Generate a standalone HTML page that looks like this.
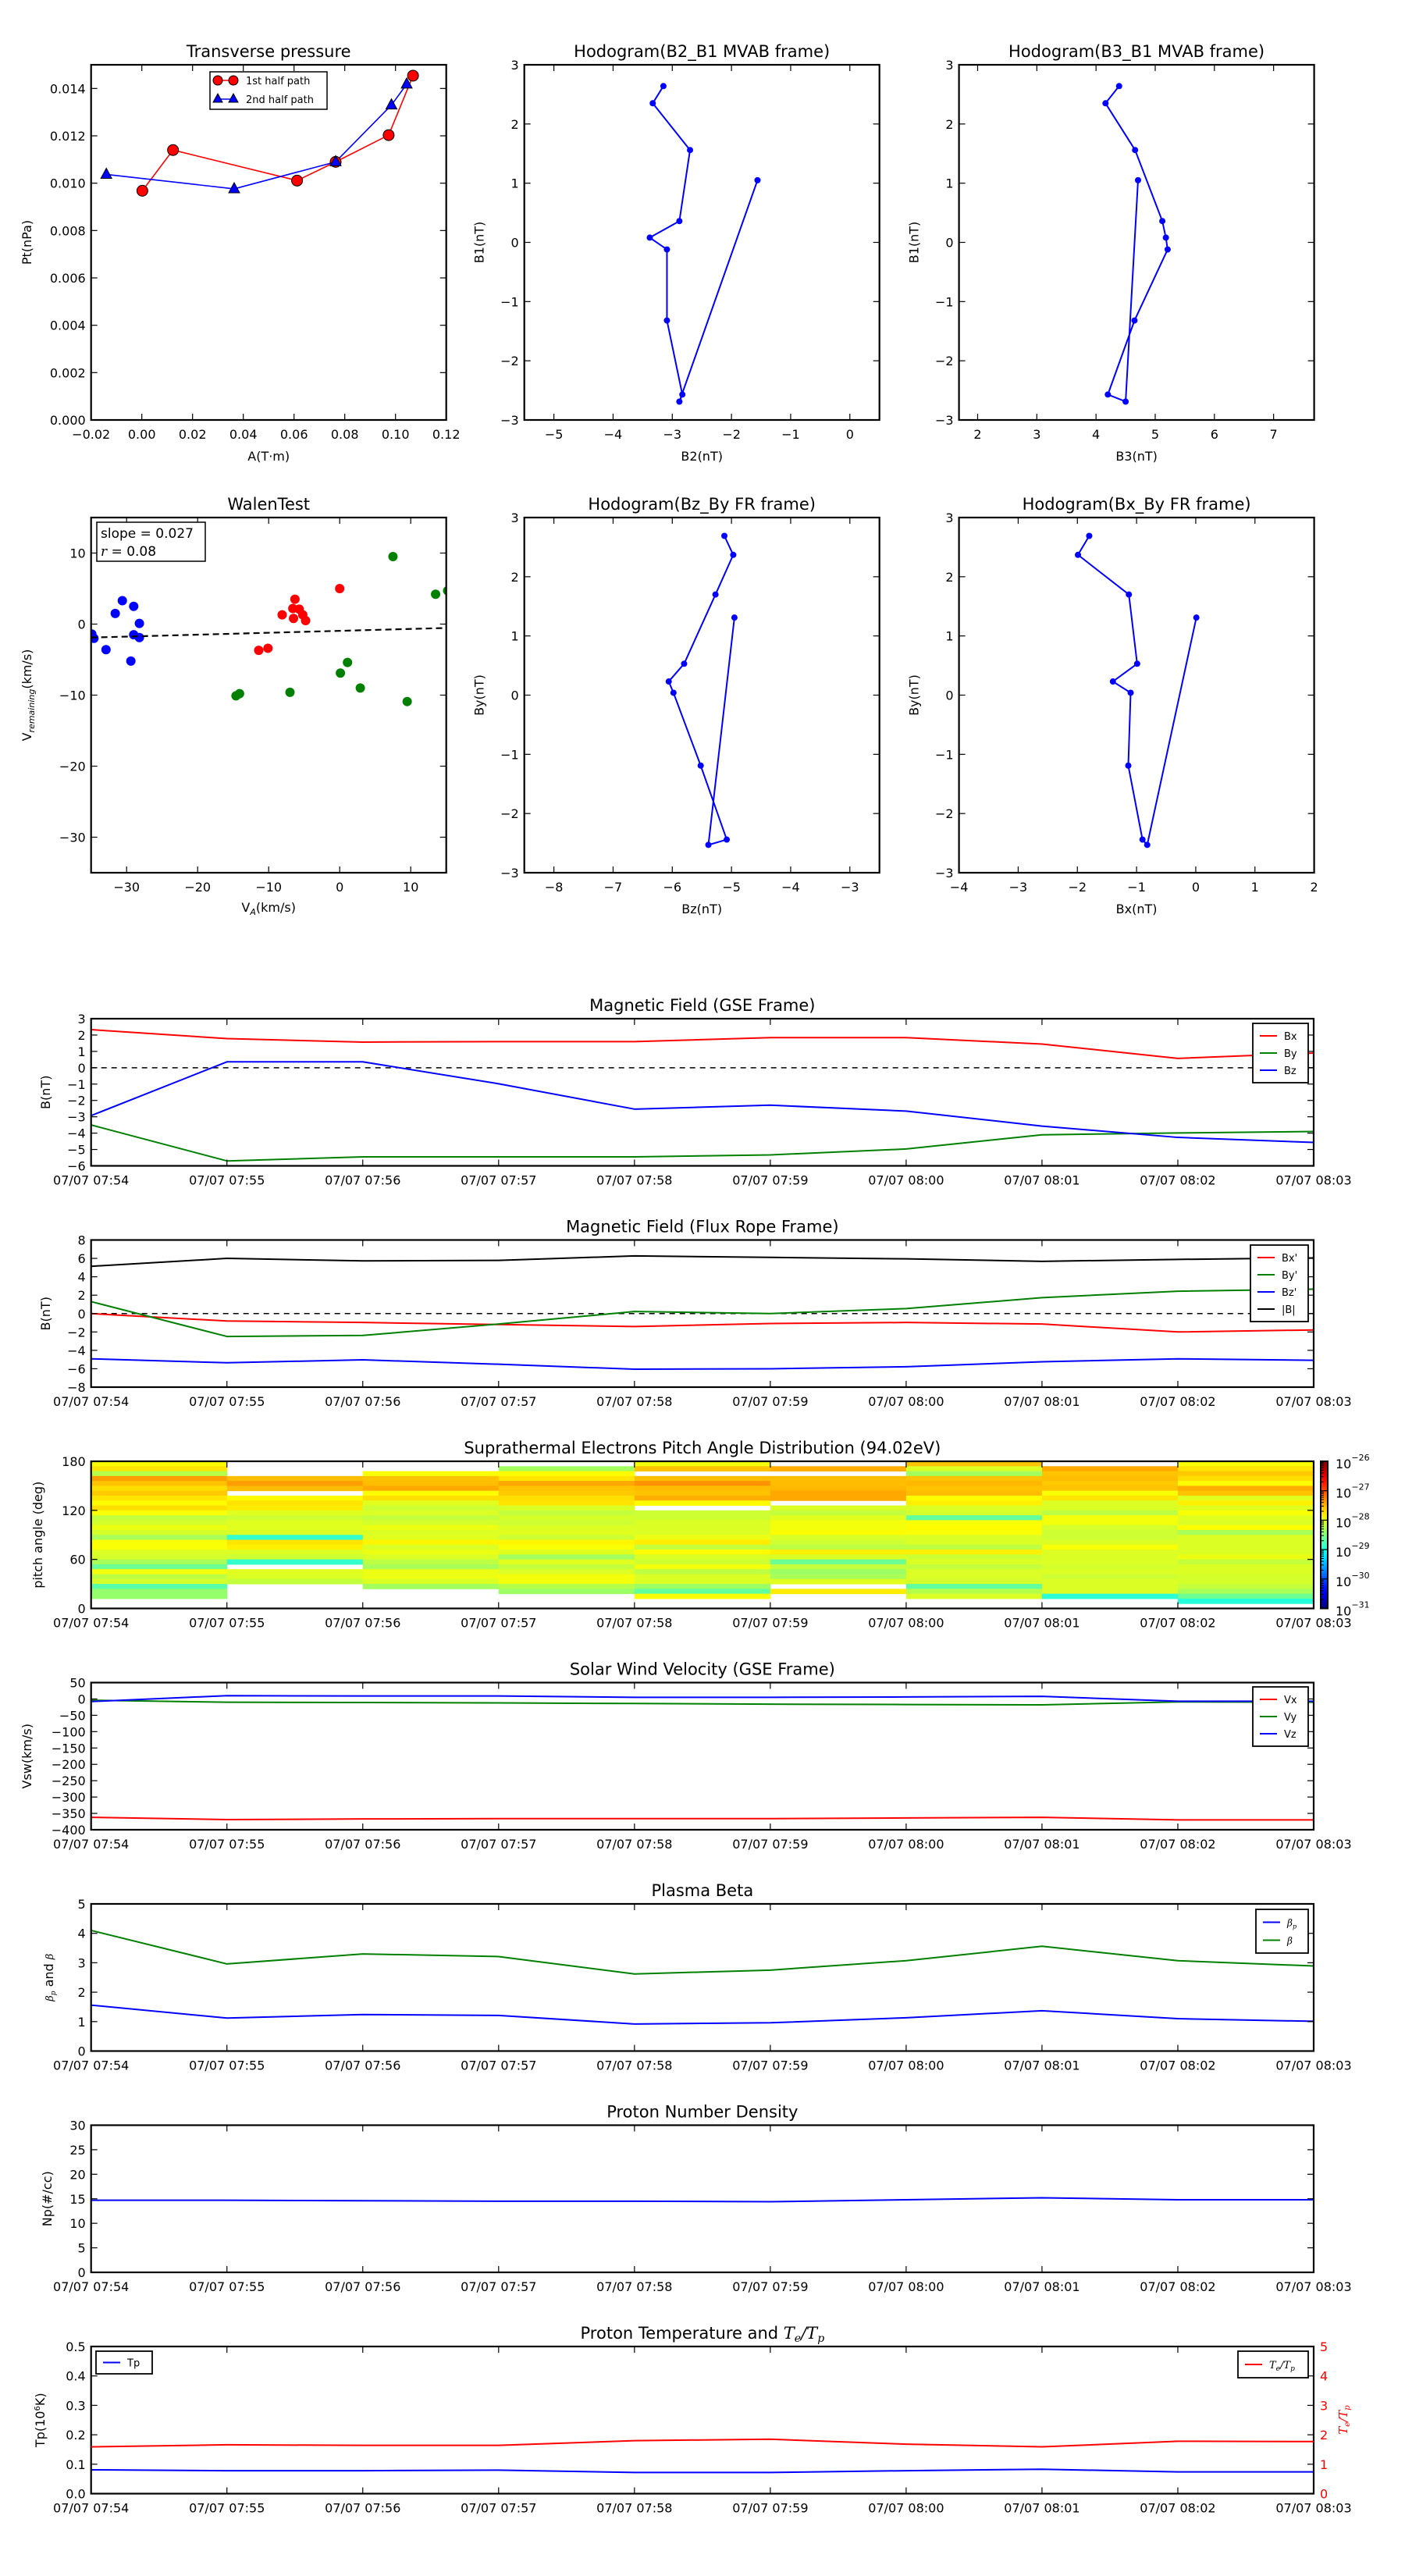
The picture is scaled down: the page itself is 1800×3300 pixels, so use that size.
<!DOCTYPE html>
<html><head><meta charset="utf-8"><style>
body{margin:0;background:#fff}
svg{display:block;font-family:"DejaVu Sans","Liberation Sans",sans-serif}
</style></head><body>
<svg id="fig" width="1800" height="3300" xmlns="http://www.w3.org/2000/svg"></svg>
<script>
// ---------- data ----------
const tpHalf1A=[0.0002,0.0123,0.0612,0.0764,0.0973,0.1069];
const tpHalf1P=[0.00968,0.0114,0.01011,0.0109,0.01203,0.01454];
const tpHalf2A=[-0.014,0.0364,0.0764,0.0984,0.1044];
const tpHalf2P=[0.01037,0.00976,0.0109,0.0133,0.01418];
const mvB1=[2.64,2.35,1.56,0.36,0.08,-0.12,-1.32,-2.57,-2.69,1.05];
const mvB2=[-3.15,-3.33,-2.70,-2.88,-3.38,-3.09,-3.09,-2.83,-2.88,-1.56];
const mvB3=[4.39,4.16,4.66,5.12,5.18,5.21,4.65,4.20,4.50,4.71];
const frBy=[2.69,2.37,1.70,0.53,0.23,0.04,-1.19,-2.44,-2.53,1.31];
const frBz=[-5.12,-4.97,-5.27,-5.80,-6.06,-5.98,-5.52,-5.08,-5.39,-4.95];
const frBx=[-1.80,-1.99,-1.13,-0.99,-1.40,-1.10,-1.14,-0.90,-0.82,0.01];
const walenBlueX=[-34.9,-34.6,-32.9,-30.6,-31.6,-29.0,-28.2,-29.0,-28.2,-29.4];
const walenBlueY=[-1.4,-2.0,-3.6,3.3,1.5,2.5,0.1,-1.5,-1.9,-5.2];
const walenRedX=[0,-6.3,-8.1,-6.6,-5.7,-5.2,-4.8,-6.5,-10.1,-11.4];
const walenRedY=[5.0,3.5,1.3,2.2,2.1,1.3,0.5,0.8,-3.4,-3.7];
const walenGreenX=[7.5,13.5,15.2,1.1,0.1,2.9,9.5,-7.0,-14.1,-14.6];
const walenGreenY=[9.5,4.2,4.7,-5.4,-6.9,-9.0,-10.9,-9.6,-9.8,-10.1];
const walenSlope=0.027;
const walenIntercept=-0.95;
const timeLabels=["07/07 07:54","07/07 07:55","07/07 07:56","07/07 07:57","07/07 07:58","07/07 07:59","07/07 08:00","07/07 08:01","07/07 08:02","07/07 08:03"];
const gseBx=[2.33,1.78,1.57,1.6,1.6,1.84,1.84,1.45,0.57,0.9];
const gseBy=[-3.5,-5.7,-5.45,-5.45,-5.45,-5.33,-4.97,-4.1,-3.99,-3.9];
const gseBz=[-2.93,0.36,0.36,-0.98,-2.53,-2.29,-2.65,-3.57,-4.26,-4.57];
const frpBx=[0.0,-0.81,-0.97,-1.19,-1.41,-1.08,-0.97,-1.14,-2.0,-1.78];
const frpBy=[1.3,-2.49,-2.38,-1.14,0.22,0.0,0.54,1.73,2.43,2.65];
const frpBz=[-4.92,-5.35,-5.03,-5.51,-6.05,-6.0,-5.78,-5.24,-4.92,-5.08];
const frpBt=[5.14,6.0,5.73,5.78,6.27,6.11,5.95,5.68,5.89,6.05];
const swVx=[-362,-369,-367,-366,-366,-366,-364,-362,-370,-370];
const swVy=[-4,-10,-11,-12,-14,-16,-17,-18,-9,-10];
const swVz=[-8,10,9,9,5,5,6,8,-7,-7];
const betaP=[1.56,1.12,1.24,1.21,0.92,0.96,1.13,1.37,1.10,1.01];
const betaAll=[4.1,2.96,3.30,3.21,2.62,2.75,3.07,3.56,3.07,2.89];
const npDensity=[14.7,14.7,14.6,14.5,14.5,14.4,14.8,15.2,14.8,14.8];
const tpTemp=[0.081,0.078,0.078,0.080,0.072,0.072,0.078,0.083,0.074,0.074];
const teTpRatio=[1.59,1.66,1.64,1.64,1.80,1.85,1.68,1.59,1.78,1.77];
const N=null;
// pitch-angle log10 flux, per column (time bin), rows from 180deg downward in 6deg bins
const padLog=[
[-27.86,-27.75,-28.24,-27.4,-27.58,-27.72,-27.62,-27.75,-27.86,-27.72,-27.9,-28.17,-28.08,-27.97,-28.08,-28.3,-27.9,-27.9,-28.05,-28.08,-28.3,-28.6,-27.93,-28.2,-28.08,-28.7,-28.4,-28.4,N,N],
[N,N,N,-27.55,-27.4,-27.55,N,-27.86,-27.75,-27.78,-28.02,-28.12,-28.02,-28.02,-28.05,-28.88,-27.75,-27.8,-28.05,-28.12,-28.88,N,-28.02,-28.05,-28.17,N,N,N,N,N],
[N,N,-27.9,-27.58,-27.55,-27.45,-27.86,-27.72,-28.02,-28.12,-28.05,-28.17,-28.08,-27.97,-28.05,-28.02,-27.83,-28.05,-27.97,-28.05,-28.2,-28.3,-27.97,-27.97,-28.05,-28.33,N,N,N,N],
[N,-28.33,-27.86,-27.75,-27.45,-27.58,-27.62,-27.72,-27.75,-28.05,-28.17,-28.08,-28.12,-28.05,-28.02,-28.12,-27.83,-27.9,-28.02,-28.33,-28.02,-28.17,-28.05,-27.93,-27.93,-28.24,-28.36,N,N,N],
[-27.93,-27.58,N,-27.55,-27.35,-27.55,-27.58,-27.48,-27.86,N,-28.12,-28.12,-28.05,-28.05,-28.05,-27.97,-27.78,-28.17,-27.86,-28.05,-28.12,-27.93,-28.2,-28.05,-28.05,-28.36,-28.65,-27.9,N,N],
[N,-27.48,N,-27.55,-27.55,-27.52,-27.45,-27.45,N,-28.05,-28.17,-28.02,-27.93,-27.93,-27.86,-28.05,-28.12,-28.2,-27.8,-28.05,-28.6,-28.17,-28.36,-28.3,-28.02,N,-27.78,N,N,N],
[-27.58,-28.05,-28.33,-27.58,-27.52,-27.58,-27.55,-27.86,-27.8,-28.05,-28.08,-28.65,-27.9,-27.86,-27.9,-28.05,-28.05,-28.2,-27.8,-28.12,-28.05,-28.17,-28.05,-28.05,-28.08,-28.65,-28.24,-28.05,N,N],
[N,-27.45,-27.58,-27.55,-27.62,-27.58,-27.9,-27.75,-28.05,-28.05,-28.2,-27.93,-27.93,-28.08,-28.12,-28.12,-28.05,-27.9,-28.05,-28.05,-28.05,-28.08,-28.05,-28.12,-28.05,-28.05,-28.05,-28.92,N,N],
[-27.9,-27.75,-27.62,-27.72,-27.86,-27.48,-27.58,-28.02,-27.8,-28.02,-27.9,-28.02,-28.05,-27.86,-28.3,-28.05,-28.05,-28.05,-28.05,-27.97,-28.17,-28.05,-28.05,-28.08,-28.08,-28.17,-28.3,-28.6,-28.95,N]
];
const cbarExponents=[-26,-27,-28,-29,-30,-31];

// ---------- helpers ----------
const NS="http://www.w3.org/2000/svg";
const svg=document.getElementById('fig');
let clipId=0;
function mk(tag,attrs,parent){const e=document.createElementNS(NS,tag);for(const k in attrs)e.setAttribute(k,attrs[k]);(parent||svg).appendChild(e);return e;}
function fmt(v,d){let s=(d===undefined)?String(v):v.toFixed(d);return s.replace('-','\u2212');}
function makeAxes(name,x0,y0,w,h,xmin,xmax,ymin,ymax){
  const g=mk('g',{});
  
  
  const id='clip'+(clipId++);
  const cp=mk('clipPath',{id:id},g);
  mk('rect',{x:x0,y:y0,width:w,height:h},cp);
  const inner=mk('g',{'clip-path':'url(#'+id+')'},g);
  
  
  return {g,inner,x0,y0,w,h,xmin,xmax,ymin,ymax,
    X:v=>x0+(v-xmin)/(xmax-xmin)*w, Y:v=>y0+h-(v-ymin)/(ymax-ymin)*h};
}
function frame(a){
  const r=mk('rect',{x:a.x0,y:a.y0,width:a.w,height:a.h,fill:'none',stroke:'#000','stroke-width':2.2},a.g);
  
  
}
function xTicks(a,vals,labels,ly){
  vals.forEach((v,i)=>{
    const x=a.X(v);
    const t1=mk('line',{x1:x,x2:x,y1:a.y0+a.h,y2:a.y0+a.h-8,stroke:'#000','stroke-width':1.2},a.g);
    
    
    const t2=mk('line',{x1:x,x2:x,y1:a.y0,y2:a.y0+8,stroke:'#000','stroke-width':1.2},a.g);
    
    
    const tx=mk('text',{x:x,y:a.y0+a.h+(ly||24),'text-anchor':'middle','font-size':16},a.g);
    tx.textContent=labels[i];
    
    
  });
}
function yTicks(a,vals,labels,noRight){
  vals.forEach((v,i)=>{
    const y=a.Y(v);
    const t1=mk('line',{x1:a.x0,x2:a.x0+8,y1:y,y2:y,stroke:'#000','stroke-width':1.2},a.g);
    
    
    if(!noRight){
      const t2=mk('line',{x1:a.x0+a.w,x2:a.x0+a.w-8,y1:y,y2:y,stroke:'#000','stroke-width':1.2},a.g);
      
      
    }
    const tx=mk('text',{x:a.x0-7,y:y+6,'text-anchor':'end','font-size':16},a.g);
    tx.textContent=labels[i];
    
    
  });
}
function title(a,s){
  const t=mk('text',{x:a.x0+a.w/2,y:a.y0-10,'text-anchor':'middle','font-size':21},a.g);
  t.textContent=s;
  
  
  return t;
}
function ylabel(a,s,x){
  const cy=a.y0+a.h/2;
  const t=mk('text',{x:x,y:cy,'text-anchor':'middle','font-size':16,transform:'rotate(-90 '+x+' '+cy+')'},a.g);
  t.textContent=s;
  
  
  return t;
}
function xlabel(a,s,y){
  const t=mk('text',{x:a.x0+a.w/2,y:y,'text-anchor':'middle','font-size':16},a.g);
  t.textContent=s;
  
  
  return t;
}
function polyline(a,xs,ys,color,name,w){
  const pts=xs.map((v,i)=>a.X(v).toFixed(2)+','+a.Y(ys[i]).toFixed(2)).join(' ');
  const p=mk('polyline',{points:pts,fill:'none',stroke:color,'stroke-width':w||2,'stroke-linejoin':'round'},a.inner);
  
  
  return p;
}
function dots(a,xs,ys,color,r,name){
  xs.forEach((v,i)=>{
    const c=mk('circle',{cx:a.X(v),cy:a.Y(ys[i]),r:r,fill:color,stroke:'none'},a.inner);
    
    
  });
}
function range(a,b,s){const r=[];for(let v=a;v<=b+1e-9;v+=s)r.push(Math.round(v*1e6)/1e6);return r;}
function jet(t){t=Math.max(0,Math.min(1,t));const c=v=>Math.round(255*Math.max(0,Math.min(1,v)));
  return 'rgb('+c(1.5-Math.abs(4*t-3))+','+c(1.5-Math.abs(4*t-2))+','+c(1.5-Math.abs(4*t-1))+')';}

// ---------- top row ----------
const TOPX=[116.7,671.7,1228.6], TOPW=455, ROWY=[83,663], TOPH=455;

// Transverse pressure
{
const a=makeAxes('transverse-pressure-chart',TOPX[0],ROWY[0],TOPW,TOPH,-0.02,0.12,0,0.015);
polyline(a,tpHalf1A,tpHalf1P,'#ff0000','first-half-path-line',1.6);
polyline(a,tpHalf2A,tpHalf2P,'#0000ff','second-half-path-line',1.6);
tpHalf1A.forEach((v,i)=>{
  const c=mk('circle',{cx:a.X(v),cy:a.Y(tpHalf1P[i]),r:7,fill:'#ff0000',stroke:'#000','stroke-width':1},a.inner);
  
  
});
tpHalf2A.forEach((v,i)=>{
  const x=a.X(v),y=a.Y(tpHalf2P[i]);
  const p=mk('polygon',{points:`${x},${y-8} ${x-7},${y+5} ${x+7},${y+5}`,fill:'#0000ff',stroke:'#000','stroke-width':1},a.inner);
  
  
});
frame(a);
xTicks(a,range(-0.02,0.12,0.02),range(-0.02,0.12,0.02).map(v=>fmt(v,2)));
yTicks(a,range(0,0.014,0.002),range(0,0.014,0.002).map(v=>fmt(v,3)));
title(a,'Transverse pressure');
ylabel(a,'Pt(nPa)',40);
xlabel(a,'A(T\u00b7m)',590);
const lg=mk('g',{},a.g);


mk('rect',{x:269,y:92,width:150,height:48,fill:'#fff',stroke:'#000','stroke-width':1.5},lg);
mk('line',{x1:279,x2:299,y1:103,y2:103,stroke:'#ff0000','stroke-width':1.6},lg);
mk('circle',{cx:279,cy:103,r:6,fill:'#ff0000',stroke:'#000'},lg);
mk('circle',{cx:299,cy:103,r:6,fill:'#ff0000',stroke:'#000'},lg);
const l1=mk('text',{x:315,y:108,'font-size':13},lg);l1.textContent='1st half path';


mk('line',{x1:279,x2:299,y1:127,y2:127,stroke:'#0000ff','stroke-width':1.6},lg);
mk('polygon',{points:'279,120 273,131 285,131',fill:'#0000ff',stroke:'#000'},lg);
mk('polygon',{points:'299,120 293,131 305,131',fill:'#0000ff',stroke:'#000'},lg);
const l2=mk('text',{x:315,y:132,'font-size':13},lg);l2.textContent='2nd half path';


}

function hodo(name,x0,y0,xmin,xmax,xs,ys,tl,xl,yl,xticks){
  const a=makeAxes(name,x0,y0,TOPW,TOPH,xmin,xmax,-3,3);
  polyline(a,xs,ys,'#0000ff',name+'-path',2);
  dots(a,xs,ys,'#0000ff',4,name+'-point');
  frame(a);
  xTicks(a,xticks,xticks.map(v=>fmt(v)));
  yTicks(a,range(-3,3,1),range(-3,3,1).map(v=>fmt(v)));
  title(a,tl);
  ylabel(a,yl,x0-52);
  xlabel(a,xl,y0+TOPH+52);
}
hodo('hodogram-b2-b1',TOPX[1],ROWY[0],-5.5,0.5,mvB2,mvB1,'Hodogram(B2_B1 MVAB frame)','B2(nT)','B1(nT)',range(-5,0,1));
hodo('hodogram-b3-b1',TOPX[2],ROWY[0],1.685,7.685,mvB3,mvB1,'Hodogram(B3_B1 MVAB frame)','B3(nT)','B1(nT)',range(2,7,1));
hodo('hodogram-bz-by',TOPX[1],ROWY[1],-8.5,-2.5,frBz,frBy,'Hodogram(Bz_By FR frame)','Bz(nT)','By(nT)',range(-8,-3,1));
hodo('hodogram-bx-by',TOPX[2],ROWY[1],-4,2,frBx,frBy,'Hodogram(Bx_By FR frame)','Bx(nT)','By(nT)',range(-4,2,1));

// Walen test
{
const a=makeAxes('walen-test-chart',TOPX[0],ROWY[1],TOPW,TOPH,-35,15,-35,15);
dots(a,walenBlueX,walenBlueY,'#0000ff',6,'walen-point-blue');
dots(a,walenRedX,walenRedY,'#ff0000',6,'walen-point-red');
dots(a,walenGreenX,walenGreenY,'#008000',6,'walen-point-green');
const fl=mk('line',{x1:a.X(-35),y1:a.Y(walenSlope*-35+walenIntercept),x2:a.X(15),y2:a.Y(walenSlope*15+walenIntercept),stroke:'#000','stroke-width':2.2,'stroke-dasharray':'8,5'},a.inner);


frame(a);
xTicks(a,range(-30,10,10),range(-30,10,10).map(v=>fmt(v)));
yTicks(a,range(-30,10,10),range(-30,10,10).map(v=>fmt(v)));
title(a,'WalenTest');
const yl=ylabel(a,'',40);
yl.innerHTML='V<tspan font-size="11" font-style="italic" dy="4">remaining</tspan><tspan dy="-4">(km/s)</tspan>';
const xl=xlabel(a,'',1168);
xl.innerHTML='V<tspan font-size="11" font-style="italic" dy="4">A</tspan><tspan dy="-4">(km/s)</tspan>';
const bx=mk('g',{},a.g);


mk('rect',{x:124,y:669,width:139,height:50,fill:'#fff',stroke:'#000','stroke-width':1.5},bx);
const s1=mk('text',{x:129,y:689,'font-size':17},bx);s1.textContent='slope = 0.027';
const s2=mk('text',{x:129,y:712,'font-size':17},bx);s2.innerHTML='<tspan font-style="italic" font-family="DejaVu Serif">r</tspan> = 0.08';
}

// ---------- time series panels ----------
const PX=116.7, PW=1566.3, PH=188.5;
const PTOP=[1305,1588.5,1872,2155.5,2439,2722.5,3006];
const tIdx=timeLabels.map((s,i)=>i);
function tsAxes(name,k,ymin,ymax){return makeAxes(name,PX,PTOP[k],PW,PH,0,9,ymin,ymax);}
function legendBox(a,x,y,w,entries,rowH){
  const lg=mk('g',{},a.g);
  
  
  mk('rect',{x:x,y:y,width:w,height:entries.length*rowH+10,fill:'#fff',stroke:'#000','stroke-width':1.8},lg);
  entries.forEach((e,i)=>{
    const yy=y+5+rowH*(i+0.5);
    mk('line',{x1:x+9,x2:x+31,y1:yy,y2:yy,stroke:e[1],'stroke-width':2},lg);
    const t=mk('text',{x:x+40,y:yy+5,'font-size':13},lg);
    t.innerHTML=e[0];
    
    
  });
}
function zeroLine(a){
  const z=mk('line',{x1:a.x0,x2:a.x0+a.w,y1:a.Y(0),y2:a.Y(0),stroke:'#000','stroke-width':1.5,'stroke-dasharray':'7,6'},a.inner);
  
  
}
function tsFinish(a,yv,yl,ttl,ylab,ylx){
  frame(a);
  xTicks(a,tIdx,timeLabels);
  yTicks(a,yv,yl);
  if(ttl)title(a,ttl);
  return ylabel(a,ylab,ylx);
}

// Magnetic field GSE
{
const a=tsAxes('magnetic-field-gse-chart',0,-6,3);
zeroLine(a);
polyline(a,tIdx,gseBx,'#ff0000','bx-line');
polyline(a,tIdx,gseBy,'#008000','by-line');
polyline(a,tIdx,gseBz,'#0000ff','bz-line');
tsFinish(a,range(-6,3,1),range(-6,3,1).map(v=>fmt(v)),'Magnetic Field (GSE Frame)','B(nT)',64);
legendBox(a,1605,1311,71,[['Bx','#ff0000'],['By','#008000'],['Bz','#0000ff']],22);
}
// Magnetic field FR
{
const a=tsAxes('magnetic-field-flux-rope-chart',1,-8,8);
zeroLine(a);
polyline(a,tIdx,frpBx,'#ff0000','bx-prime-line');
polyline(a,tIdx,frpBy,'#008000','by-prime-line');
polyline(a,tIdx,frpBz,'#0000ff','bz-prime-line');
polyline(a,tIdx,frpBt,'#000000','b-magnitude-line');
tsFinish(a,range(-8,8,2),range(-8,8,2).map(v=>fmt(v)),'Magnetic Field (Flux Rope Frame)','B(nT)',64);
legendBox(a,1602,1595,74,[["Bx'",'#ff0000'],["By'",'#008000'],["Bz'",'#0000ff'],['|B|','#000']],22);
}
// PAD
{
const a=tsAxes('pitch-angle-distribution-chart',2,0,180);
padLog.forEach((col,ci)=>{
  col.forEach((v,ri)=>{
    if(v===null)return;
    const top=180-6*ri;
    const r=mk('rect',{x:a.X(ci),y:a.Y(top),width:a.X(ci+1)-a.X(ci)+0.5,height:a.Y(top-6)-a.Y(top)+0.5,fill:jet((v+31)/5)},a.inner);
    
    
  });
});
tsFinish(a,[0,60,120,180],['0','60','120','180'],'Suprathermal Electrons Pitch Angle Distribution (94.02eV)','pitch angle (deg)',54);
// colorbar
const cb=mk('g',{},a.g);


const defs=mk('defs',{},cb);
const lgd=mk('linearGradient',{id:'jetgrad',x1:0,y1:1,x2:0,y2:0},defs);
for(let i=0;i<=20;i++)mk('stop',{offset:(i/20),'stop-color':jet(i/20)},lgd);
const cx0=1692,cw=9,cy0=1872,ch=188.5;
mk('rect',{x:cx0,y:cy0,width:cw,height:ch,fill:'url(#jetgrad)',stroke:'#000','stroke-width':2},cb);
const cY=e=>cy0+ch-(e+31)/5*ch;
cbarExponents.forEach(e=>{
  const y=cY(e);
  mk('line',{x1:cx0,x2:cx0+cw,y1:y,y2:y,stroke:'#000','stroke-width':1.2},cb);
  const t=mk('text',{x:1711,y:y+9,'font-size':16},cb);
  t.innerHTML='10<tspan dy="-10" font-size="11">'+fmt(e)+'</tspan>';
  
  
  if(e>-31){for(let m=2;m<10;m++){const ym=cY(e-1+Math.log10(m));mk('line',{x1:cx0,x2:cx0+4,y1:ym,y2:ym,stroke:'#000','stroke-width':1},cb);}}
});
}
// Solar wind
{
const a=tsAxes('solar-wind-velocity-chart',3,-400,50);
polyline(a,tIdx,swVx,'#ff0000','vx-line');
polyline(a,tIdx,swVy,'#008000','vy-line');
polyline(a,tIdx,swVz,'#0000ff','vz-line');
tsFinish(a,range(-400,50,50),range(-400,50,50).map(v=>fmt(v)),'Solar Wind Velocity (GSE Frame)','Vsw(km/s)',40);
legendBox(a,1605,2161,71,[['Vx','#ff0000'],['Vy','#008000'],['Vz','#0000ff']],22);
}
// Plasma beta
{
const a=tsAxes('plasma-beta-chart',4,0,5);
polyline(a,tIdx,betaP,'#0000ff','beta-p-line');
polyline(a,tIdx,betaAll,'#008000','beta-line');
const yl=tsFinish(a,range(0,5,1),range(0,5,1).map(v=>fmt(v)),'Plasma Beta','',68);
yl.innerHTML='<tspan font-style="italic" font-family="DejaVu Serif" font-size="13">\u03b2<tspan font-size="9" dy="3">p</tspan></tspan><tspan dy="-3"> and </tspan><tspan font-style="italic" font-family="DejaVu Serif" font-size="13">\u03b2</tspan>';
legendBox(a,1609,2446,67,[['<tspan font-style="italic" font-family="DejaVu Serif" font-size="12">\u03b2<tspan font-size="8" dy="3">p</tspan></tspan>','#0000ff'],['<tspan font-style="italic" font-family="DejaVu Serif" font-size="12">\u03b2</tspan>','#008000']],23);
}
// Density
{
const a=tsAxes('proton-density-chart',5,0,30);
polyline(a,tIdx,npDensity,'#0000ff','density-line');
tsFinish(a,range(0,30,5),range(0,30,5).map(v=>fmt(v)),'Proton Number Density','Np(#/cc)',66);
}
// Temperature
{
const a=tsAxes('proton-temperature-chart',6,0,0.5);
const b=makeAxes('te-tp-axis',PX,PTOP[6],PW,PH,0,9,0,5);
polyline(b,tIdx,teTpRatio,'#ff0000','te-tp-line');
polyline(a,tIdx,tpTemp,'#0000ff','tp-line');
const yl=tsFinish(a,range(0,0.5,0.1),range(0,0.5,0.1).map(v=>fmt(v,1)),'','',57);
yl.innerHTML='Tp(10<tspan font-size="10" dy="-6">6</tspan><tspan dy="6">K)</tspan>';
// right axis
range(0,5,1).forEach(v=>{
  const y=b.Y(v);
  const t=mk('text',{x:1691,y:y+6,'font-size':16,fill:'#ff0000'},b.g);
  t.textContent=String(v);
  
  
});
const rl=mk('text',{x:1726,y:3100,'text-anchor':'middle','font-size':15,fill:'#ff0000','font-style':'italic','font-family':'DejaVu Serif',transform:'rotate(-90 1726 3100)'},b.g);
rl.innerHTML='T<tspan font-size="10" dy="3">e</tspan><tspan dy="-3">/T</tspan><tspan font-size="10" dy="3">p</tspan>';


const tt=title(a,'');
tt.innerHTML='Proton Temperature and <tspan font-style="italic" font-family="DejaVu Serif">T<tspan font-size="14" dy="4">e</tspan><tspan dy="-4">/T</tspan><tspan font-size="14" dy="4">p</tspan></tspan>';
legendBox(a,123,3012,72,[['Tp','#0000ff']],19);
legendBox(a,1586,3012,90,[['<tspan font-style="italic" font-family="DejaVu Serif">T<tspan font-size="9" dy="3">e</tspan><tspan dy="-3">/T</tspan><tspan font-size="9" dy="3">p</tspan></tspan>','#ff0000']],24);
}
</script>
</body></html>
